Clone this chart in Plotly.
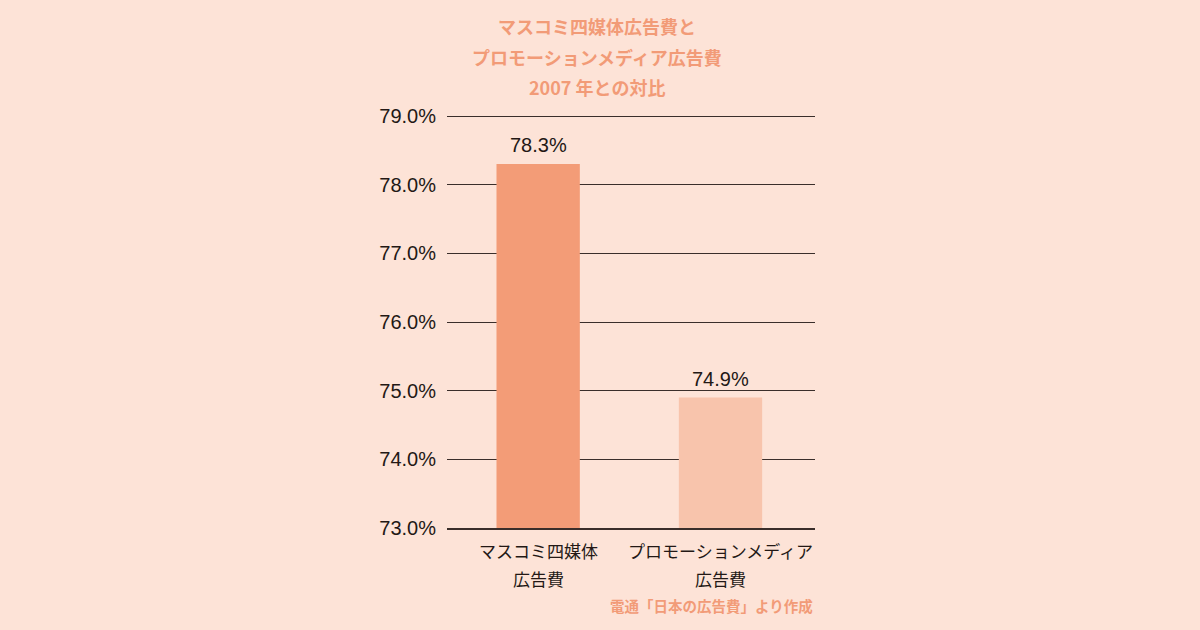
import plotly.graph_objects as go

categories = ["マスコミ四媒体<br>広告費", "プロモーションメディア<br>広告費"]
values = [78.3, 74.9]
bar_colors = ["#F39C77", "#F8C4AC"]
tick_vals = [73, 74, 75, 76, 77, 78, 79]
title_lines = ["マスコミ四媒体広告費と", "プロモーションメディア広告費", "2007 年との対比"]
source = "電通「日本の広告費」より作成"

font_jp = "Noto Sans CJK JP"
bg = "#FDE3D7"
accent = "#F29B77"
ink = "#231815"

fig = go.Figure(go.Bar(
    x=categories,
    y=values,
    marker=dict(color=bar_colors, line=dict(width=0)),
    hoverinfo="skip",
))

fig.update_layout(
    width=1200, height=630,
    paper_bgcolor=bg, plot_bgcolor=bg,
    margin=dict(l=447, r=385, t=116, b=102),
    bargap=0.543,
    showlegend=False,
    font=dict(family=font_jp, color=ink),
    yaxis=dict(
        range=[73, 79], tickvals=tick_vals,
        ticktext=[f"{v:.1f}%" for v in tick_vals],
        tickfont=dict(size=20, family="Liberation Sans", color=ink),
        gridcolor="#3a2e2a", gridwidth=1,
        zeroline=False, showline=False, ticks="", ticklabelstandoff=10,
    ),
    xaxis=dict(
        showline=True, linecolor="#3a2e2a", linewidth=2,
        showticklabels=False, ticks="",
    ),
)

# value labels above the bars
for cat, v in zip(categories, values):
    fig.add_annotation(text=f"{v:.1f}%", x=cat, y=v, xref="x", yref="y",
                       yanchor="middle", yshift=19, showarrow=False,
                       font=dict(size=20, color=ink, family="Liberation Sans"))

# title, one annotation per line for the wider line spacing
for i, line in enumerate(title_lines):
    fig.add_annotation(text=f"<b>{line}</b>", x=0.5, xref="paper", xshift=-34,
                       y=1, yref="paper", yanchor="middle", yshift=90 - 30.5 * i,
                       showarrow=False, font=dict(size=18, color=accent, family=font_jp))

# category labels, two lines each
for cat in categories:
    for j, part in enumerate(cat.split("<br>")):
        fig.add_annotation(text=part, x=cat, xref="x", y=0, yref="paper",
                           yanchor="middle", yshift=-22 - 28 * j, showarrow=False,
                           font=dict(size=17, color=ink, family=font_jp))

fig.add_annotation(text=f"<b>{source}</b>", x=1, xref="paper", xanchor="right",
                   y=0, yref="paper", yanchor="middle", yshift=-77, showarrow=False,
                   font=dict(size=14.5, color=accent, family=font_jp))

fig.add_shape(type="line", xref="paper", yref="y", x0=0, x1=1, y0=79, y1=79,
              line=dict(color="#3a2e2a", width=2))

fig.write_html("out.html", config={"displayModeBar": False},
               post_script="document.body.style.margin='0';")
